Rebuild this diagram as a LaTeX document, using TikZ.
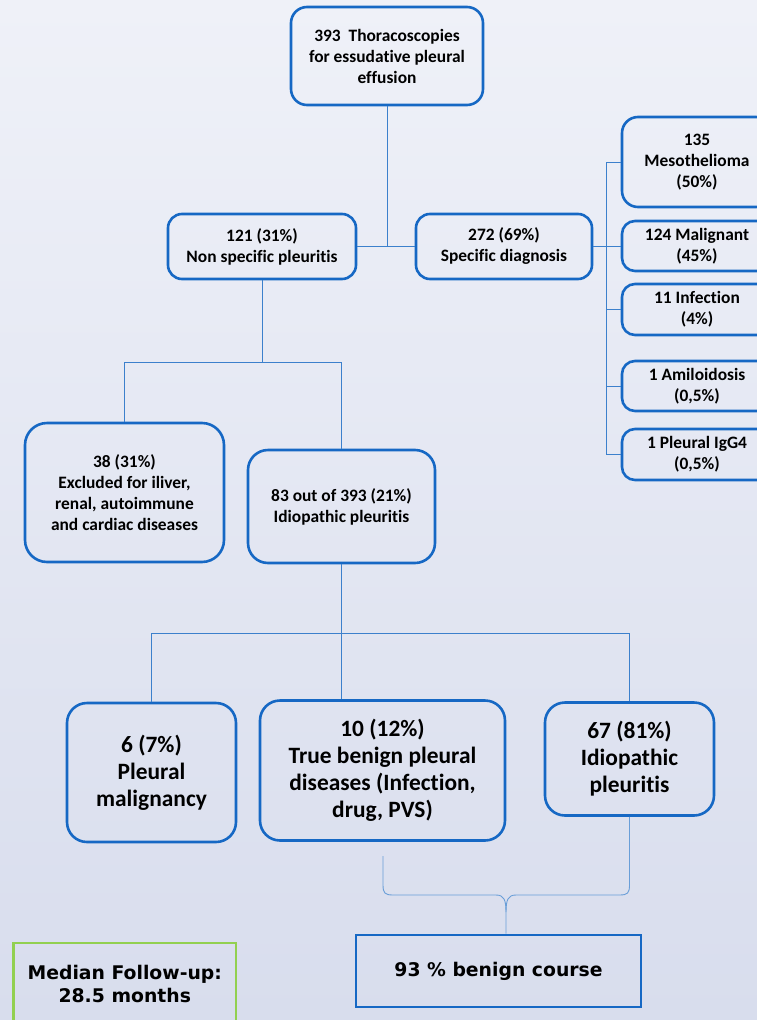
\documentclass[tikz,border=0pt]{standalone}
\usepackage{fontspec}
\setmainfont{Carlito}[Ligatures=NoCommon]
\newfontfamily\dvs{DejaVu Sans}
\usetikzlibrary{calc}
\definecolor{bbl}{RGB}{22,104,196}
\definecolor{cnl}{RGB}{60,128,204}
\definecolor{brl}{RGB}{105,158,216}
\definecolor{gbx}{RGB}{146,208,80}
\definecolor{bgt}{RGB}{239,241,248}
\definecolor{bgb}{RGB}{216,221,237}
\newcommand\fsmall{\fontsize{17.4}{21}\selectfont\bfseries}
\newcommand\flarge{\fontsize{23.4}{27}\selectfont\bfseries}
\newcommand\fdv{\dvs\fontsize{18.8}{23}\selectfont\bfseries}
\begin{document}
\begin{tikzpicture}[x=1pt,y=-1pt,
  box/.style={draw=bbl, line width=2.6pt, rounded corners=14pt, inner sep=0pt, align=center, font=\fsmall},
  bigbox/.style={box, rounded corners=20pt, font=\flarge},
  rbox/.style={box, rounded corners=13pt, minimum width=150pt},
  sqbox/.style={draw=bbl, line width=2.6pt, inner sep=0pt, align=center, font=\fdv},
  gbox/.style={draw=gbx, line width=2.6pt, inner sep=0pt, align=center, font=\fdv},
  conn/.style={draw=cnl, line width=0.9pt},
  brc/.style={draw=brl, line width=0.9pt}]
\useasboundingbox (0,0) rectangle (757,1020);
\shade[top color=bgt, bottom color=bgb] (0,0) rectangle (757,1020);

% nodes
\node[box, rounded corners=16pt, minimum width=192pt, minimum height=98pt] (top) at (387,56) {393\ \ Thoracoscopies\\for essudative pleural\\effusion};
\node[box, minimum width=188pt, minimum height=65pt] (ns) at (262,246.5) {121 (31\%)\\Non specific pleuritis};
\node[box, minimum width=176pt, minimum height=65pt] (sd) at (504,246.5) {272 (69\%)\\Specific diagnosis};

\node[rbox, minimum height=90pt, rounded corners=16pt] (m1) at (697,162) {135\\Mesothelioma\\(50\%)};
\node[rbox, minimum height=50pt] (m2) at (697,246) {124 Malignant\\(45\%)};
\node[rbox, minimum height=51pt] (m3) at (697,309.5) {11 Infection\\(4\%)};
\node[rbox, minimum height=50pt] (m4) at (697,386) {1 Amiloidosis\\(0,5\%)};
\node[rbox, minimum height=51pt] (m5) at (697,454.5) {1 Pleural IgG4\\(0,5\%)};

\node[box, rounded corners=22pt, minimum width=199pt, minimum height=139pt] (ex) at (124.5,492.5) {38 (31\%)\\Excluded for iliver,\\renal, autoimmune\\and cardiac diseases};
\node[box, rounded corners=20pt, minimum width=187pt, minimum height=113pt] (ip) at (341.5,506.5) {83 out of 393 (21\%)\\Idiopathic pleuritis};

\node[bigbox, minimum width=169pt, minimum height=139pt] (pm) at (151.5,772.5) {6 (7\%)\\Pleural\\malignancy};
\node[bigbox, minimum width=245pt, minimum height=140pt] (tb) at (382.5,770.5) {10 (12\%)\\True benign pleural\\diseases (Infection,\\drug, PVS)};
\node[bigbox, minimum width=169pt, minimum height=113pt] (ib) at (629.5,759) {67 (81\%)\\Idiopathic\\pleuritis};

\node[sqbox, minimum width=285pt, minimum height=72pt] (bc) at (498.5,971) {93 \% benign course};
\node[gbox, minimum width=222.5pt, minimum height=81pt] (mf) at (124.75,983.5) {Median Follow-up:\\28.5 months};

% connectors
\coordinate (j0) at (387,246.5);
\draw[conn] (top.south) -- (j0);
\draw[conn] (ns.east) -- (sd.west);

\coordinate (sp) at (606,246.5);
\draw[conn] (sd.east) -- (sp);
\draw[conn] (sp |- m1.west) -- (sp |- m5.west);
\foreach \m in {m1,m2,m3,m4,m5} \draw[conn] (sp |- \m.west) -- (\m.west);

\coordinate (j1) at (262,362);
\draw[conn] (ns.south) -- (j1);
\draw[conn] (ex.north |- j1) -- (ip.north |- j1);
\draw[conn] (ex.north |- j1) -- (ex.north);
\draw[conn] (ip.north |- j1) -- (ip.north);

\coordinate (j2) at (341.5,633);
\draw[conn] (ip.south) -- (ip.south |- tb.north);
\draw[conn] (pm.north |- j2) -- (ib.north |- j2);
\draw[conn] (pm.north |- j2) -- (pm.north);
\draw[conn] (ib.north |- j2) -- (ib.north);

% brace
\coordinate (bl) at (383,856);
\coordinate (bm) at (506,895);
\draw[brc] (bl) -- (383,885) .. controls (383,893) and (385,895) .. (393,895) -- (496,895) .. controls (504,895) and (506,900) .. (506,912) -- (bc.north -| bm);
\draw[brc] (ib.south) -- (629.5,885) .. controls (629.5,893) and (627.5,895) .. (619.5,895) -- (516,895) .. controls (508,895) and (506,900) .. (506,912);
\end{tikzpicture}
\end{document}
